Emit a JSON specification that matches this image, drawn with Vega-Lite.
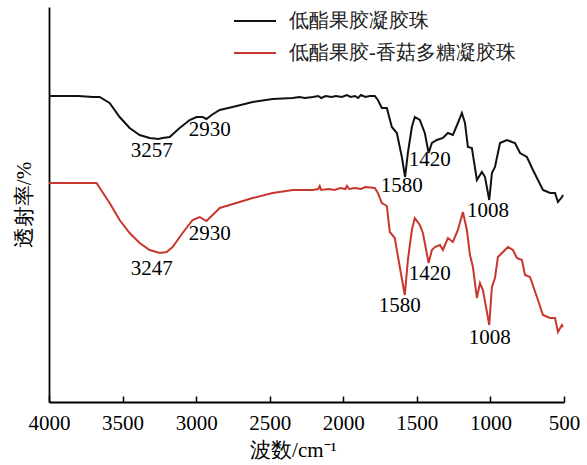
{
  "$schema": "https://vega.github.io/schema/vega-lite/v6.json",
  "width": 515,
  "height": 395,
  "autosize": {"type": "none"},
  "padding": {"left": 49, "top": 7, "right": 23, "bottom": 63},
  "background": "white",
  "config": {
    "view": {"stroke": null},
    "font": "Times New Roman"
  },
  "datasets": {
    "spectra": [
      {"s": "低酯果胶凝胶珠", "wn": 4000, "t": 306},
      {"s": "低酯果胶凝胶珠", "wn": 3800, "t": 306},
      {"s": "低酯果胶凝胶珠", "wn": 3700, "t": 305},
      {"s": "低酯果胶凝胶珠", "wn": 3656, "t": 305},
      {"s": "低酯果胶凝胶珠", "wn": 3588, "t": 299},
      {"s": "低酯果胶凝胶珠", "wn": 3520, "t": 285},
      {"s": "低酯果胶凝胶珠", "wn": 3452, "t": 274},
      {"s": "低酯果胶凝胶珠", "wn": 3384, "t": 267},
      {"s": "低酯果胶凝胶珠", "wn": 3316, "t": 264},
      {"s": "低酯果胶凝胶珠", "wn": 3257, "t": 263},
      {"s": "低酯果胶凝胶珠", "wn": 3228, "t": 264},
      {"s": "低酯果胶凝胶珠", "wn": 3180, "t": 265},
      {"s": "低酯果胶凝胶珠", "wn": 3112, "t": 274},
      {"s": "低酯果胶凝胶珠", "wn": 3044, "t": 282},
      {"s": "低酯果胶凝胶珠", "wn": 2997, "t": 285},
      {"s": "低酯果胶凝胶珠", "wn": 2956, "t": 285},
      {"s": "低酯果胶凝胶珠", "wn": 2930, "t": 283},
      {"s": "低酯果胶凝胶珠", "wn": 2895, "t": 287},
      {"s": "低酯果胶凝胶珠", "wn": 2840, "t": 292},
      {"s": "低酯果胶凝胶珠", "wn": 2752, "t": 295},
      {"s": "低酯果胶凝胶珠", "wn": 2616, "t": 300},
      {"s": "低酯果胶凝胶珠", "wn": 2480, "t": 303},
      {"s": "低酯果胶凝胶珠", "wn": 2343, "t": 304},
      {"s": "低酯果胶凝胶珠", "wn": 2300, "t": 305},
      {"s": "低酯果胶凝胶珠", "wn": 2260, "t": 304},
      {"s": "低酯果胶凝胶珠", "wn": 2207, "t": 305},
      {"s": "低酯果胶凝胶珠", "wn": 2170, "t": 306},
      {"s": "低酯果胶凝胶珠", "wn": 2150, "t": 304},
      {"s": "低酯果胶凝胶珠", "wn": 2120, "t": 306},
      {"s": "低酯果胶凝胶珠", "wn": 2080, "t": 305},
      {"s": "低酯果胶凝胶珠", "wn": 2050, "t": 306},
      {"s": "低酯果胶凝胶珠", "wn": 2010, "t": 305},
      {"s": "低酯果胶凝胶珠", "wn": 1976, "t": 307},
      {"s": "低酯果胶凝胶珠", "wn": 1950, "t": 305},
      {"s": "低酯果胶凝胶珠", "wn": 1920, "t": 306},
      {"s": "低酯果胶凝胶珠", "wn": 1900, "t": 304},
      {"s": "低酯果胶凝胶珠", "wn": 1880, "t": 307},
      {"s": "低酯果胶凝胶珠", "wn": 1850, "t": 305},
      {"s": "低酯果胶凝胶珠", "wn": 1820, "t": 306},
      {"s": "低酯果胶凝胶珠", "wn": 1786, "t": 306},
      {"s": "低酯果胶凝胶珠", "wn": 1765, "t": 302},
      {"s": "低酯果胶凝胶珠", "wn": 1738, "t": 294},
      {"s": "低酯果胶凝胶珠", "wn": 1704, "t": 294},
      {"s": "低酯果胶凝胶珠", "wn": 1670, "t": 275},
      {"s": "低酯果胶凝胶珠", "wn": 1636, "t": 269},
      {"s": "低酯果胶凝胶珠", "wn": 1602, "t": 245},
      {"s": "低酯果胶凝胶珠", "wn": 1580, "t": 225},
      {"s": "低酯果胶凝胶珠", "wn": 1561, "t": 249},
      {"s": "低酯果胶凝胶珠", "wn": 1534, "t": 275},
      {"s": "低酯果胶凝胶珠", "wn": 1514, "t": 285},
      {"s": "低酯果胶凝胶珠", "wn": 1480, "t": 282},
      {"s": "低酯果胶凝胶珠", "wn": 1446, "t": 269},
      {"s": "低酯果胶凝胶珠", "wn": 1420, "t": 249},
      {"s": "低酯果胶凝胶珠", "wn": 1398, "t": 259},
      {"s": "低酯果胶凝胶珠", "wn": 1364, "t": 262},
      {"s": "低酯果胶凝胶珠", "wn": 1323, "t": 264},
      {"s": "低酯果胶凝胶珠", "wn": 1289, "t": 269},
      {"s": "低酯果胶凝胶珠", "wn": 1255, "t": 267},
      {"s": "低酯果胶凝胶珠", "wn": 1221, "t": 279},
      {"s": "低酯果胶凝胶珠", "wn": 1194, "t": 289},
      {"s": "低酯果胶凝胶珠", "wn": 1173, "t": 279},
      {"s": "低酯果胶凝胶珠", "wn": 1153, "t": 255},
      {"s": "低酯果胶凝胶珠", "wn": 1126, "t": 254},
      {"s": "低酯果胶凝胶珠", "wn": 1092, "t": 222},
      {"s": "低酯果胶凝胶珠", "wn": 1058, "t": 230},
      {"s": "低酯果胶凝胶珠", "wn": 1037, "t": 225},
      {"s": "低酯果胶凝胶珠", "wn": 1008, "t": 202},
      {"s": "低酯果胶凝胶珠", "wn": 990, "t": 229},
      {"s": "低酯果胶凝胶珠", "wn": 969, "t": 235},
      {"s": "低酯果胶凝胶珠", "wn": 935, "t": 259},
      {"s": "低酯果胶凝胶珠", "wn": 888, "t": 262},
      {"s": "低酯果胶凝胶珠", "wn": 854, "t": 260},
      {"s": "低酯果胶凝胶珠", "wn": 833, "t": 259},
      {"s": "低酯果胶凝胶珠", "wn": 799, "t": 249},
      {"s": "低酯果胶凝胶珠", "wn": 752, "t": 245},
      {"s": "低酯果胶凝胶珠", "wn": 711, "t": 232},
      {"s": "低酯果胶凝胶珠", "wn": 643, "t": 212},
      {"s": "低酯果胶凝胶珠", "wn": 595, "t": 209},
      {"s": "低酯果胶凝胶珠", "wn": 561, "t": 209},
      {"s": "低酯果胶凝胶珠", "wn": 541, "t": 200},
      {"s": "低酯果胶凝胶珠", "wn": 514, "t": 205},
      {"s": "低酯果胶凝胶珠", "wn": 507, "t": 207},
      {"s": "低酯果胶-香菇多糖凝胶珠", "wn": 4000, "t": 219},
      {"s": "低酯果胶-香菇多糖凝胶珠", "wn": 3800, "t": 219},
      {"s": "低酯果胶-香菇多糖凝胶珠", "wn": 3677, "t": 219},
      {"s": "低酯果胶-香菇多糖凝胶珠", "wn": 3588, "t": 199},
      {"s": "低酯果胶-香菇多糖凝胶珠", "wn": 3520, "t": 182},
      {"s": "低酯果胶-香菇多糖凝胶珠", "wn": 3452, "t": 169},
      {"s": "低酯果胶-香菇多糖凝胶珠", "wn": 3384, "t": 159},
      {"s": "低酯果胶-香菇多糖凝胶珠", "wn": 3316, "t": 152},
      {"s": "低酯果胶-香菇多糖凝胶珠", "wn": 3247, "t": 149},
      {"s": "低酯果胶-香菇多糖凝胶珠", "wn": 3201, "t": 150},
      {"s": "低酯果胶-香菇多糖凝胶珠", "wn": 3160, "t": 155},
      {"s": "低酯果胶-香菇多糖凝胶珠", "wn": 3092, "t": 169},
      {"s": "低酯果胶-香菇多糖凝胶珠", "wn": 3024, "t": 182},
      {"s": "低酯果胶-香菇多糖凝胶珠", "wn": 2976, "t": 185},
      {"s": "低酯果胶-香菇多糖凝胶珠", "wn": 2930, "t": 181},
      {"s": "低酯果胶-香菇多糖凝胶珠", "wn": 2888, "t": 187},
      {"s": "低酯果胶-香菇多糖凝胶珠", "wn": 2840, "t": 194},
      {"s": "低酯果胶-香菇多糖凝胶珠", "wn": 2772, "t": 197},
      {"s": "低酯果胶-香菇多糖凝胶珠", "wn": 2616, "t": 204},
      {"s": "低酯果胶-香菇多糖凝胶珠", "wn": 2480, "t": 209},
      {"s": "低酯果胶-香菇多糖凝胶珠", "wn": 2343, "t": 212},
      {"s": "低酯果胶-香菇多糖凝胶珠", "wn": 2207, "t": 212},
      {"s": "低酯果胶-香菇多糖凝胶珠", "wn": 2170, "t": 213},
      {"s": "低酯果胶-香菇多糖凝胶珠", "wn": 2160, "t": 216},
      {"s": "低酯果胶-香菇多糖凝胶珠", "wn": 2150, "t": 212},
      {"s": "低酯果胶-香菇多糖凝胶珠", "wn": 2100, "t": 213},
      {"s": "低酯果胶-香菇多糖凝胶珠", "wn": 2060, "t": 212},
      {"s": "低酯果胶-香菇多糖凝胶珠", "wn": 2020, "t": 214},
      {"s": "低酯果胶-香菇多糖凝胶珠", "wn": 1985, "t": 213},
      {"s": "低酯果胶-香菇多糖凝胶珠", "wn": 1975, "t": 216},
      {"s": "低酯果胶-香菇多糖凝胶珠", "wn": 1960, "t": 213},
      {"s": "低酯果胶-香菇多糖凝胶珠", "wn": 1920, "t": 214},
      {"s": "低酯果胶-香菇多糖凝胶珠", "wn": 1880, "t": 213},
      {"s": "低酯果胶-香菇多糖凝胶珠", "wn": 1850, "t": 215},
      {"s": "低酯果胶-香菇多糖凝胶珠", "wn": 1786, "t": 214},
      {"s": "低酯果胶-香菇多糖凝胶珠", "wn": 1765, "t": 209},
      {"s": "低酯果胶-香菇多糖凝胶珠", "wn": 1738, "t": 199},
      {"s": "低酯果胶-香菇多糖凝胶珠", "wn": 1704, "t": 196},
      {"s": "低酯果胶-香菇多糖凝胶珠", "wn": 1684, "t": 170},
      {"s": "低酯果胶-香菇多糖凝胶珠", "wn": 1650, "t": 164},
      {"s": "低酯果胶-香菇多糖凝胶珠", "wn": 1616, "t": 135},
      {"s": "低酯果胶-香菇多糖凝胶珠", "wn": 1582, "t": 107},
      {"s": "低酯果胶-香菇多糖凝胶珠", "wn": 1561, "t": 142},
      {"s": "低酯果胶-香菇多糖凝胶珠", "wn": 1534, "t": 172},
      {"s": "低酯果胶-香菇多糖凝胶珠", "wn": 1514, "t": 184},
      {"s": "低酯果胶-香菇多糖凝胶珠", "wn": 1480, "t": 177},
      {"s": "低酯果胶-香菇多糖凝胶珠", "wn": 1459, "t": 169},
      {"s": "低酯果胶-香菇多糖凝胶珠", "wn": 1420, "t": 139},
      {"s": "低酯果胶-香菇多糖凝胶珠", "wn": 1398, "t": 152},
      {"s": "低酯果胶-香菇多糖凝胶珠", "wn": 1377, "t": 155},
      {"s": "低酯果胶-香菇多糖凝胶珠", "wn": 1343, "t": 157},
      {"s": "低酯果胶-香菇多糖凝胶珠", "wn": 1323, "t": 152},
      {"s": "低酯果胶-香菇多糖凝胶珠", "wn": 1289, "t": 164},
      {"s": "低酯果胶-香菇多糖凝胶珠", "wn": 1255, "t": 160},
      {"s": "低酯果胶-香菇多糖凝胶珠", "wn": 1221, "t": 172},
      {"s": "低酯果胶-香菇多糖凝胶珠", "wn": 1187, "t": 190},
      {"s": "低酯果胶-香菇多糖凝胶珠", "wn": 1160, "t": 172},
      {"s": "低酯果胶-香菇多糖凝胶珠", "wn": 1139, "t": 147},
      {"s": "低酯果胶-香菇多糖凝胶珠", "wn": 1119, "t": 135},
      {"s": "低酯果胶-香菇多糖凝胶珠", "wn": 1092, "t": 104},
      {"s": "低酯果胶-香菇多糖凝胶珠", "wn": 1071, "t": 119},
      {"s": "低酯果胶-香菇多糖凝胶珠", "wn": 1051, "t": 112},
      {"s": "低酯果胶-香菇多糖凝胶珠", "wn": 1008, "t": 77},
      {"s": "低酯果胶-香菇多糖凝胶珠", "wn": 990, "t": 115},
      {"s": "低酯果胶-香菇多糖凝胶珠", "wn": 969, "t": 124},
      {"s": "低酯果胶-香菇多糖凝胶珠", "wn": 949, "t": 145},
      {"s": "低酯果胶-香菇多糖凝胶珠", "wn": 915, "t": 150},
      {"s": "低酯果胶-香菇多糖凝胶珠", "wn": 881, "t": 155},
      {"s": "低酯果胶-香菇多糖凝胶珠", "wn": 847, "t": 152},
      {"s": "低酯果胶-香菇多糖凝胶珠", "wn": 820, "t": 144},
      {"s": "低酯果胶-香菇多糖凝胶珠", "wn": 786, "t": 142},
      {"s": "低酯果胶-香菇多糖凝胶珠", "wn": 765, "t": 127},
      {"s": "低酯果胶-香菇多糖凝胶珠", "wn": 731, "t": 125},
      {"s": "低酯果胶-香菇多糖凝胶珠", "wn": 684, "t": 105},
      {"s": "低酯果胶-香菇多糖凝胶珠", "wn": 643, "t": 87},
      {"s": "低酯果胶-香菇多糖凝胶珠", "wn": 595, "t": 84},
      {"s": "低酯果胶-香菇多糖凝胶珠", "wn": 561, "t": 84},
      {"s": "低酯果胶-香菇多糖凝胶珠", "wn": 541, "t": 70},
      {"s": "低酯果胶-香菇多糖凝胶珠", "wn": 514, "t": 77},
      {"s": "低酯果胶-香菇多糖凝胶珠", "wn": 507, "t": 75}
    ],
    "labels": [
      {"wn": 3302, "t": 251, "label": "3257"},
      {"wn": 2908, "t": 272, "label": "2930"},
      {"wn": 1602, "t": 216, "label": "1580"},
      {"wn": 1412, "t": 242, "label": "1420"},
      {"wn": 1017, "t": 191, "label": "1008"},
      {"wn": 3302, "t": 133, "label": "3247"},
      {"wn": 2908, "t": 168, "label": "2930"},
      {"wn": 1616, "t": 96, "label": "1580"},
      {"wn": 1412, "t": 128, "label": "1420"},
      {"wn": 1004, "t": 64, "label": "1008"}
    ]
  },
  "encoding": {
    "x": {
      "field": "wn",
      "type": "quantitative",
      "scale": {"domain": [500, 4000], "reverse": true, "nice": false, "zero": false},
      "axis": {
        "values": [4000, 3500, 3000, 2500, 2000, 1500, 1000, 500],
        "format": "d",
        "grid": false,
        "title": "波数/cm⁻¹",
        "titleFont": "Times New Roman",
        "titleFontSize": 21,
        "titleFontWeight": "normal",
        "titleColor": "black",
        "titlePadding": 6,
        "titleX": 244,
        "titleAlign": "center",
        "labelFont": "Times",
        "labelFontSize": 21,
        "labelColor": "black",
        "labelPadding": 16,
        "labelFlush": false,
        "labelOverlap": false,
        "tickSize": -6,
        "tickWidth": 1.5,
        "tickColor": "black",
        "domainColor": "black",
        "domainWidth": 1.8
      }
    },
    "y": {
      "field": "t",
      "type": "quantitative",
      "scale": {"domain": [0, 395], "nice": false, "zero": false},
      "axis": {
        "grid": false,
        "ticks": false,
        "labels": false,
        "title": "透射率/%",
        "titleFont": "Times New Roman",
        "titleFontSize": 21,
        "titleFontWeight": "normal",
        "titleColor": "black",
        "titlePadding": 15,
        "domainColor": "black",
        "domainWidth": 1.8
      }
    }
  },
  "layer": [
    {
      "data": {"name": "spectra"},
      "mark": {"type": "line", "strokeWidth": 2},
      "encoding": {
        "color": {
          "field": "s",
          "type": "nominal",
          "scale": {"domain": ["低酯果胶凝胶珠", "低酯果胶-香菇多糖凝胶珠"], "range": ["#111111", "#c8372d"]},
          "legend": {
            "title": null,
            "orient": "none",
            "legendX": 184,
            "legendY": -8,
            "padding": 0,
            "symbolType": "stroke",
            "symbolSize": 1764,
            "symbolStrokeWidth": 2,
            "labelFont": "Times New Roman",
            "labelFontSize": 20,
            "labelColor": "#222222",
            "labelOffset": 12,
            "rowPadding": -4,
            "labelLimit": 400
          }
        }
      }
    },
    {
      "data": {"name": "labels"},
      "mark": {"type": "text", "font": "Times New Roman", "fontSize": 21, "color": "black", "align": "center", "baseline": "middle"},
      "encoding": {"text": {"field": "label"}}
    }
  ]
}
